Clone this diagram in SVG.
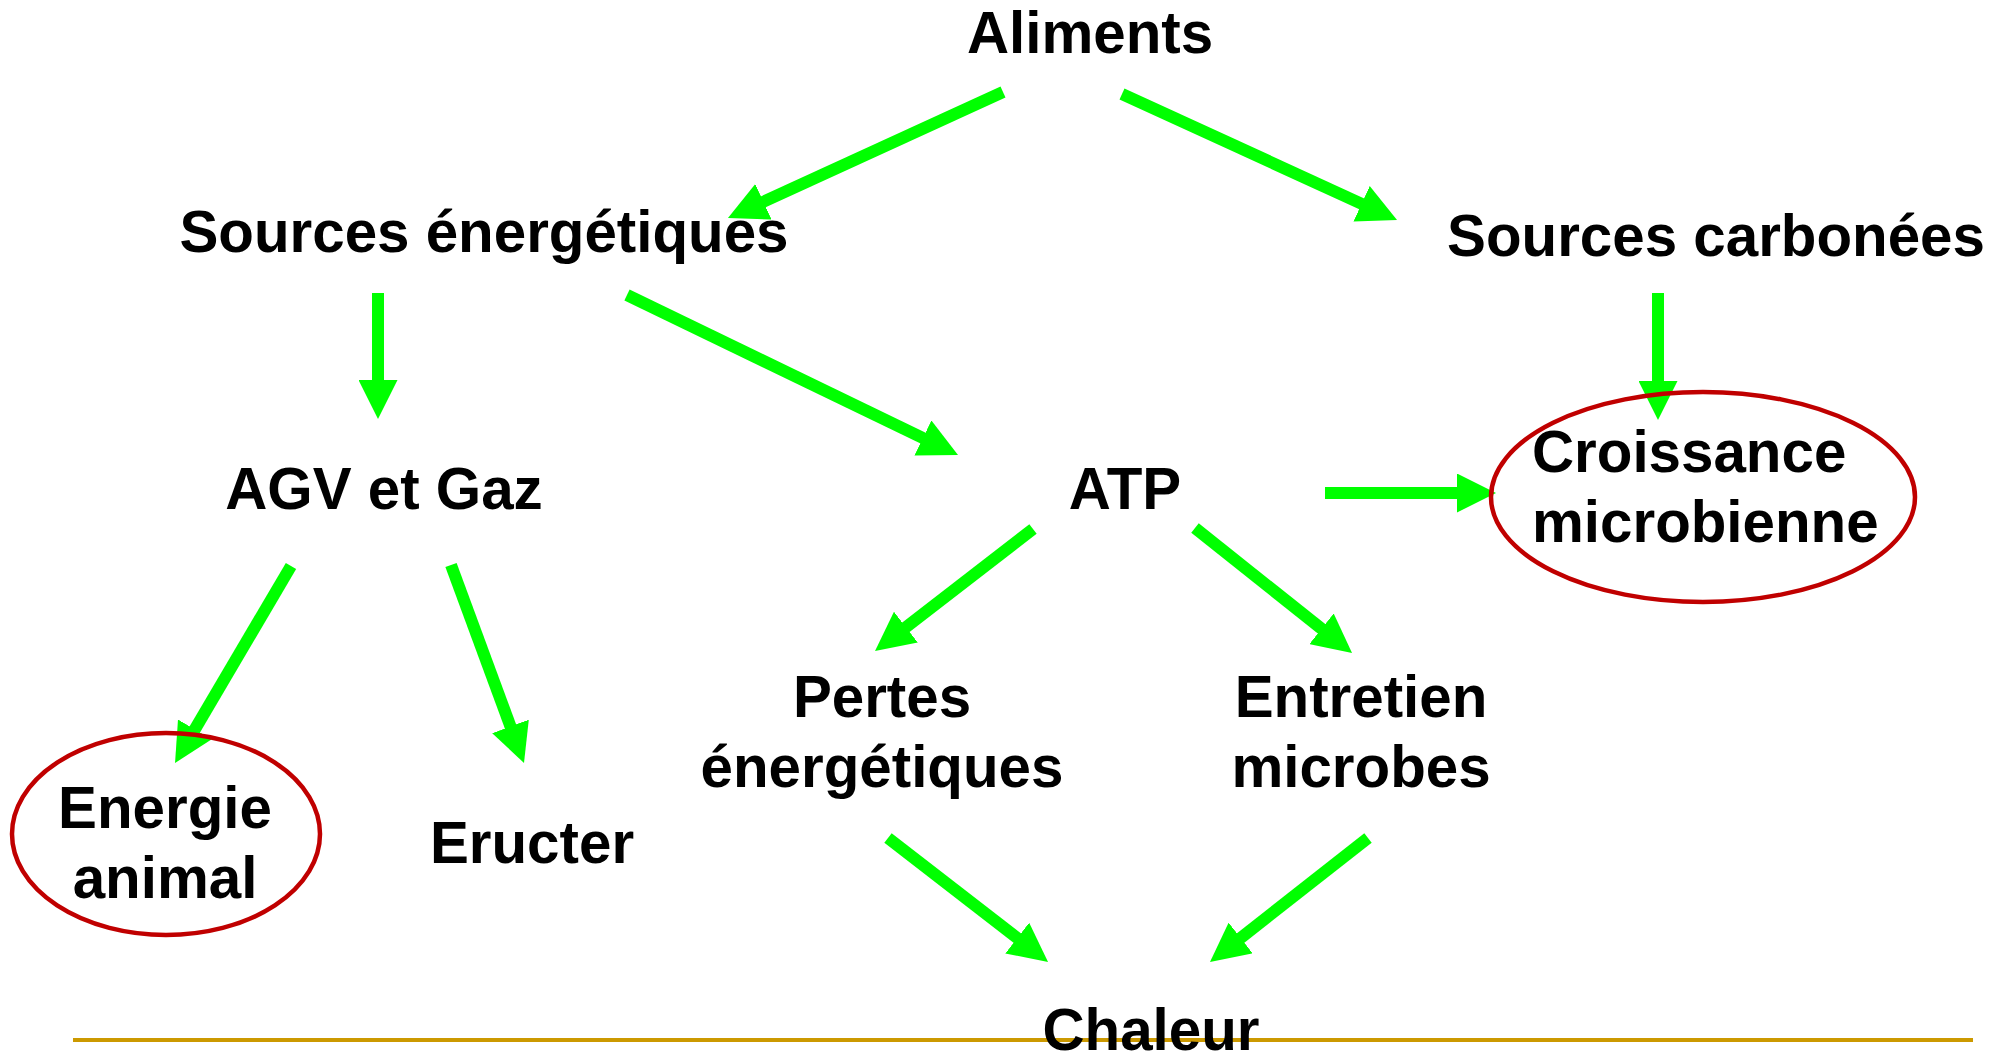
<svg xmlns="http://www.w3.org/2000/svg" width="2009" height="1054" viewBox="0 0 2009 1054">
  <style>
    .lbl { font-family: "Liberation Sans", Arial, sans-serif; font-weight: bold; font-size: 58.3px; fill: #000; text-anchor: middle; }
    .start { text-anchor: start; }
    .ring { fill: none; stroke: #c00000; stroke-width: 4.5; }
    .flow { stroke: #00ff00; stroke-width: 12; fill: none; marker-end: url(#head); }
  </style>
  <defs>
    <marker id="head" markerUnits="userSpaceOnUse" markerWidth="39" markerHeight="39" viewBox="0 0 39 39" refX="2" refY="19.5" orient="auto">
      <path d="M0,0 L39,19.5 L0,39 Z" fill="#00ff00"/>
    </marker>
  </defs>
  <rect width="2009" height="1054" fill="#fff"/>

  <!-- baseline rule at the foot of the page -->
  <line x1="73" y1="1040" x2="1973" y2="1040" stroke="#cc9900" stroke-width="4"/>

  <g id="connectors">
    <line class="flow" x1="1003" y1="92" x2="761.6" y2="202.6"/>
    <line class="flow" x1="1122" y1="94" x2="1363.4" y2="204.6"/>
    <line class="flow" x1="378" y1="293" x2="378" y2="382"/>
    <line class="flow" x1="627" y1="295" x2="924.7" y2="438.9"/>
    <line class="flow" x1="1658" y1="293" x2="1658" y2="383"/>
    <line class="flow" x1="1325" y1="493" x2="1459" y2="493"/>
    <line class="flow" x1="1033" y1="529" x2="904.3" y2="628.4"/>
    <line class="flow" x1="1195" y1="528" x2="1323.1" y2="630"/>
    <line class="flow" x1="291" y1="566" x2="193.8" y2="731.1"/>
    <line class="flow" x1="451" y1="565" x2="511.2" y2="728.3"/>
    <line class="flow" x1="888" y1="838" x2="1018.8" y2="939.3"/>
    <line class="flow" x1="1368" y1="838" x2="1239.1" y2="939.2"/>
  </g>

  <g id="aliments"><text class="lbl" x="1090" y="53">Aliments</text></g>
  <g id="sources-energetiques"><text class="lbl" x="484" y="252">Sources énergétiques</text></g>
  <g id="sources-carbonees"><text class="lbl" x="1716" y="256">Sources carbonées</text></g>
  <g id="agv-gaz"><text class="lbl" x="384" y="509">AGV et Gaz</text></g>
  <g id="atp"><text class="lbl" x="1125" y="509">ATP</text></g>
  <g id="croissance">
    <ellipse class="ring" cx="1703" cy="497" rx="212" ry="105"/>
    <text class="lbl start" x="1532" y="472">Croissance</text>
    <text class="lbl start" x="1532" y="542">microbienne</text>
  </g>
  <g id="pertes">
    <text class="lbl" x="882" y="717">Pertes</text>
    <text class="lbl" x="882" y="787">énergétiques</text>
  </g>
  <g id="entretien">
    <text class="lbl" x="1361" y="717">Entretien</text>
    <text class="lbl" x="1361" y="787">microbes</text>
  </g>
  <g id="energie-animal">
    <ellipse class="ring" cx="166" cy="834" rx="154" ry="101"/>
    <text class="lbl" x="165" y="828">Energie</text>
    <text class="lbl" x="165" y="898">animal</text>
  </g>
  <g id="eructer"><text class="lbl" x="532" y="863">Eructer</text></g>
  <g id="chaleur"><text class="lbl" x="1151" y="1050">Chaleur</text></g>
</svg>
